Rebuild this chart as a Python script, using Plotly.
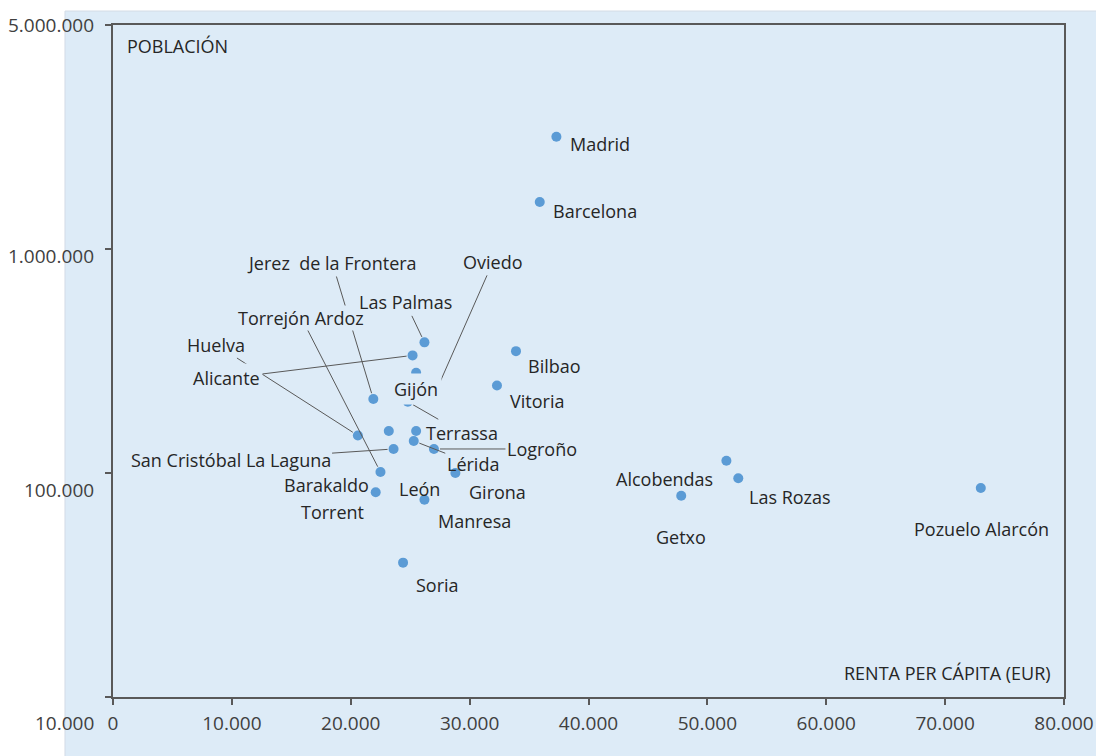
import numpy as np
import plotly.graph_objects as go

# ---------------- data ----------------
ciudades = [
    "Madrid", "Barcelona", "Bilbao", "Vitoria", "Alcobendas", "Las Rozas", "Getxo",
    "Pozuelo Alarcón", "Soria", "Las Palmas", "Alicante", "Gijón", "Oviedo", "Terrassa",
    "Jerez  de la Frontera", "Huelva", "Barakaldo", "León", "Lérida", "San Cristóbal La Laguna",
    "Logroño", "Girona", "Torrejón Ardoz", "Torrent", "Manresa",
]
renta = [
    37300, 35900, 33900, 32300, 51600, 52600, 47800,
    73000, 24400, 26200, 25200, 25500, 27000, 24800,
    21900, 20600, 23200, 25500, 25300, 23600,
    27000, 28800, 22500, 22100, 26200,
]
poblacion = [
    3170000, 1620000, 350000, 246000, 113500, 94700, 79200,
    85700, 39800, 383000, 335000, 280000, 221000, 208000,
    214000, 147000, 154000, 154000, 139000, 128000,
    128000, 100000, 101000, 82000, 76000,
]

x_ticks = [0, 10000, 20000, 30000, 40000, 50000, 60000, 70000, 80000]
x_tick_text = ["0", "10.000", "20.000", "30.000", "40.000", "50.000", "60.000", "70.000", "80.000"]
y_ticks = [10000, 100000, 1000000, 10000000]
y_tick_text = ["10.000", "100.000", "1.000.000", "5.000.000"]

x_title = "RENTA PER CÁPITA (EUR)"
y_title = "POBLACIÓN"

# ---------------- label styling (pixel offsets of label centre from its point) ----------------
lab_dx = [44, 55, 39, 40, -62, 52, 0,
          1, 34, -19, -186, 0, 59, 54,
          -41, -142, -62, 3, 59, -163,
          108, 42, -79, -43, 50]
lab_dy = [7, 9, 15, 16, 18, 19, 41,
          41, 22, -40, 23, 16, -134, 31,
          -136, -91, 54, 58, 23, 11,
          0, 19, -154, 20, 21]
leader = [False, False, False, False, False, False, False,
          False, False, True, True, False, True, True,
          True, True, False, False, True, True,
          True, False, True, False, False]
# drawing order (later ones cover earlier leader lines)
order = [0, 1, 2, 3, 4, 5, 6, 7, 8, 12, 13, 14, 15, 17, 18, 19, 20, 21, 23, 24, 16,
         22, 9, 10, 11]
with_bg = {10: 2, 11: 3, 22: 0}

BG = "#DDEBF7"
DOT = "#5B9BD5"
TXT = "#262626"
AX = "#595959"
FONT = "Open Sans"

fig = go.Figure()
fig.add_trace(go.Scatter(
    x=renta, y=poblacion, mode="markers", text=ciudades,
    marker=dict(size=10, color=DOT),
    hovertemplate="%{text}<br>%{x:,.0f} EUR<br>%{y:,.0f}<extra></extra>",
    showlegend=False,
))

annotations = []
for i in order:
    a = dict(x=renta[i], y=np.log10(poblacion[i]), xref="x", yref="y",
             text=ciudades[i].replace("  ", "\u00a0 "),
             font=dict(family=FONT, size=18, color=TXT))
    if leader[i]:
        a.update(showarrow=True, ax=lab_dx[i], ay=lab_dy[i], arrowhead=0,
                 arrowwidth=1, arrowcolor=AX, standoff=6)
    else:
        a.update(showarrow=False, xshift=lab_dx[i], yshift=-lab_dy[i])
    if i in with_bg:
        a.update(bgcolor=BG, borderpad=with_bg[i])
    annotations.append(a)

# y tick labels (placed as in the reference)
y_label_shift = [-26, -17, -7, 0]
for v, t, s in zip(y_ticks, y_tick_text, y_label_shift):
    annotations.append(dict(x=0, xref="paper", xanchor="right", xshift=-17,
                            y=np.log10(v), yref="y", yanchor="middle", yshift=s,
                            text=t, showarrow=False,
                            font=dict(family=FONT, size=19, color="#404040")))

# axis titles inside the plot
annotations.append(dict(x=0, xref="paper", xanchor="left", xshift=12,
                        y=1, yref="paper", yanchor="middle", yshift=-21,
                        text=y_title, showarrow=False,
                        font=dict(family=FONT, size=18, color=TXT)))
annotations.append(dict(x=1, xref="paper", xanchor="right", xshift=-11,
                        y=0, yref="paper", yanchor="middle", yshift=24,
                        text=x_title, showarrow=False,
                        font=dict(family=FONT, size=18, color=TXT)))

fig.update_layout(
    width=1096, height=756,
    margin=dict(l=113, r=32, t=25, b=59, autoexpand=False),
    paper_bgcolor="white", plot_bgcolor=BG,
    annotations=annotations,
    shapes=[dict(type="rect", xref="paper", yref="paper",
                 x0=-0.0505, x1=1.05, y0=-0.12, y1=1.0208,
                 fillcolor=BG, line=dict(color="#D3DCE6", width=1), layer="below")],
    xaxis=dict(range=[0, 80000], tickvals=x_ticks, ticktext=x_tick_text, automargin=False,
               showgrid=False, zeroline=False, showline=True, linecolor=AX, linewidth=1.5,
               mirror=True, ticks="outside", ticklen=6, tickcolor=AX, tickwidth=1.5,
               tickfont=dict(family=FONT, size=19, color="#404040"),
               ticklabelstandoff=2),
    yaxis=dict(type="log", range=[4, 7], tickvals=y_ticks, showticklabels=False, automargin=False,
               showgrid=False, zeroline=False, showline=True, linecolor=AX, linewidth=1.5,
               mirror=True, ticks="outside", ticklen=6, tickcolor=AX, tickwidth=1.5),
)

fig.write_html("out.html", config={"displayModeBar": False},
               post_script="document.body.style.margin='0';document.body.style.overflow='hidden';")
